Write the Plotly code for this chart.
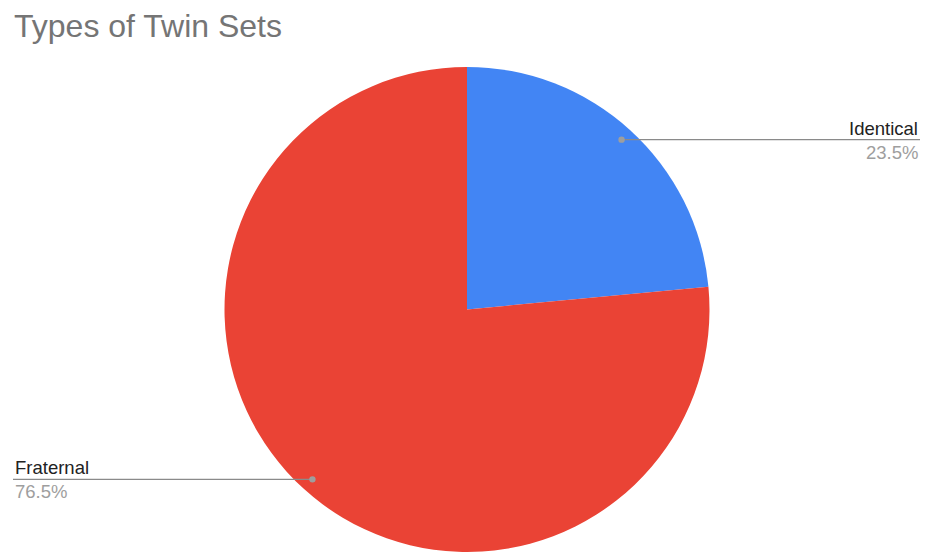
import math
import plotly.graph_objects as go

# Chart data
labels = ["Identical", "Fraternal"]
values = [23.5, 76.5]
colors = ["#4285F4", "#EA4335"]
title_text = "Types of Twin Sets"

# Figure geometry (pixels)
W, H = 925, 552
ML, MR, MT, MB = 9, 0, 67, 0
plot_w = W - ML - MR
plot_h = H - MT - MB
radius_px = min(plot_w, plot_h) / 2
cx_px = ML + plot_w / 2
cy_px = MT + plot_h / 2


def to_paper(x_px, y_px):
    return (x_px - ML) / plot_w, 1 - (y_px - MT) / plot_h


fig = go.Figure(
    go.Pie(
        labels=labels,
        values=values,
        sort=False,
        direction="clockwise",
        rotation=0,
        marker=dict(colors=colors, line=dict(width=0)),
        textinfo="none",
        hoverinfo="label+percent",
        showlegend=False,
    )
)

# Leader lines with labels, anchored at each slice's midpoint angle
total = sum(values)
shapes = []
annotations = []
cum = 0.0
for lab, val in zip(labels, values):
    mid = (cum + val / 2) / total * 2 * math.pi
    cum += val
    dx = math.sin(mid) * radius_px * 0.947
    dy = -math.cos(mid) * radius_px * 0.947
    dot_x, dot_y = cx_px + dx, cy_px + dy
    right_side = dx > 0
    end_x = W - 5 if right_side else 13
    px0, py = to_paper(dot_x, dot_y)
    px1, _ = to_paper(end_x, dot_y)
    shapes.append(dict(type="line", xref="paper", yref="paper",
                       x0=px0, x1=px1, y0=py, y1=py,
                       line=dict(color="#8a8a8a", width=1.3)))
    r = 3.2
    c0x, c0y = to_paper(dot_x - r, dot_y + r)
    c1x, c1y = to_paper(dot_x + r, dot_y - r)
    shapes.append(dict(type="circle", xref="paper", yref="paper",
                       x0=c0x, x1=c1x, y0=c0y, y1=c1y,
                       fillcolor="#9e9e9e", line=dict(width=0)))
    anchor = "right" if right_side else "left"
    annotations.append(dict(xref="paper", yref="paper", x=px1, y=py,
                            xanchor=anchor, yanchor="bottom", yshift=-1,
                            text=lab, showarrow=False,
                            font=dict(family="Liberation Sans, Arial", size=18.5, color="#222222")))
    annotations.append(dict(xref="paper", yref="paper", x=px1, y=py,
                            xanchor=anchor, yanchor="top", yshift=0,
                            text=f"{val / total * 100:.1f}%", showarrow=False,
                            font=dict(family="Liberation Sans, Arial", size=18.5, color="#9e9e9e")))

# Title placed as a paper-anchored annotation above the plot area
tx, ty = to_paper(12, 6)
annotations.append(dict(xref="paper", yref="paper", x=tx, y=ty,
                        xanchor="left", yanchor="top", text=title_text,
                        showarrow=False,
                        font=dict(family="Liberation Sans, Arial", size=32, color="#757575")))

fig.update_layout(
    width=W,
    height=H,
    margin=dict(l=ML, r=MR, t=MT, b=MB),
    paper_bgcolor="white",
    plot_bgcolor="white",
    shapes=shapes,
    annotations=annotations,
)

fig.write_html("out.html")
